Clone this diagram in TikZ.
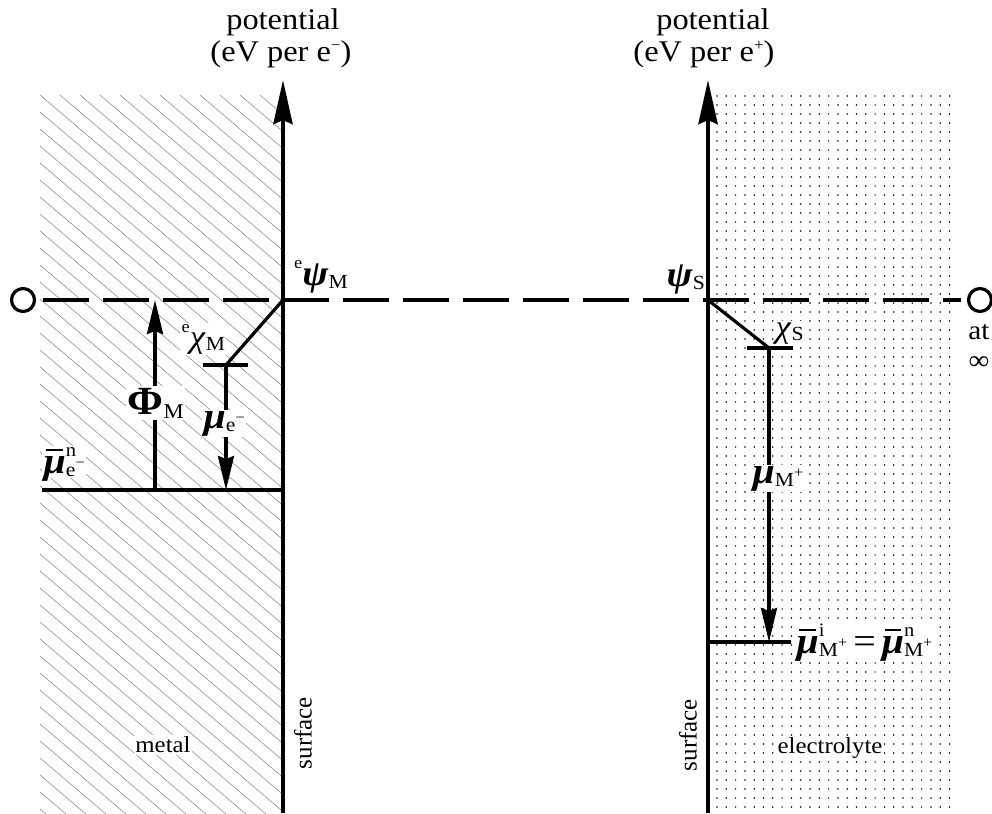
\documentclass[tikz,border=0pt]{standalone}
\usepackage{fontspec}
\usepackage{graphicx}
\setmainfont{Liberation Serif}
\usetikzlibrary{arrows.meta}
\newcommand\hs[1]{\scalebox{1.08}[1]{#1}}
\newcommand\fs[1]{\fontsize{#1}{#1}\selectfont}
\newcommand\lo[2][20]{\raisebox{-0.1em}{\fs{#1}#2}}
\newcommand\hi[2][17]{\raisebox{0.45em}{\fs{#1}#2}}
\newcommand\gk[1]{\textbf{\textit{#1}}}
\newcommand\mub{\ooalign{\gk{μ}\cr\hidewidth\raisebox{0.6em}{\rule{0.42em}{0.06em}}\hidewidth\cr}}
\begin{document}
\begin{tikzpicture}[x=1pt,y=-1pt,
 hatchline/.style={line width=0.5pt,black!50},
 dotmark/.style={fill=black},
 axisline/.style={line width=4.4pt,-{Stealth[length=44pt,width=19pt,inset=4pt]}},
 heavy/.style={line width=3.8pt},
 medium/.style={line width=3.2pt},
 smallarrow/.style={line width=3.2pt,-{Stealth[length=34pt,width=16pt,inset=3pt]}},
 dashline/.style={line width=4.2pt,dash pattern=on 46pt off 14pt},
 ring/.style={circle,draw,line width=3.2pt,minimum size=23pt,inner sep=0pt},
 txt/.style={inner sep=0pt,font=\fs{30}},
 small/.style={inner sep=0pt,font=\fs{23}},
 lab/.style={inner sep=0pt,font=\fs{36}},
 cover/.style={fill=white,inner sep=1.5pt},
]
\useasboundingbox (0,0) rectangle (992,813);
% metal hatching
\begin{scope}
\clip (40,95) rectangle (281,813);
\foreach \k in {-42,...,13} \draw[hatchline] (40+\k*20,95) -- ++(1000,850);
\end{scope}
% electrolyte dots
\foreach \i in {0,...,25}{\foreach \j in {0,...,79}{\fill[dotmark] (717+9.3*\i,96+9*\j) circle (0.85pt);}}
% coordinates
\coordinate (LB) at (283,813); \coordinate (LT) at (283,80);
\coordinate (RB) at (708,813); \coordinate (RT) at (708,80);
\coordinate (OL) at (283,300); \coordinate (OR) at (708,300);
% zero level
\node[ring] (zeroL) at (23,300) {};
\node[ring] (zeroR) at (980,300) {};
\draw[dashline,shorten <=7pt,shorten >=6pt] (zeroL) -- (zeroR);
% metal side
\coordinate (KL) at (226,365); \coordinate (TLa) at (203,365); \coordinate (TLb) at (248,365);
\draw[medium] (OL) -- (KL);
\draw[medium] (TLa) -- (TLb);
\coordinate (BLl) at (42,490); \coordinate (BLr) at (283,490);
\draw[heavy] (BLl) -- (BLr);
\coordinate (MuEnd) at (226,490);
\draw[smallarrow] (KL) -- (MuEnd);
\coordinate (PhiB) at (155,490); \coordinate (PhiT) at (155,300);
\draw[smallarrow] (PhiB) -- (PhiT);
% electrolyte side
\coordinate (KR) at (769,348); \coordinate (TRa) at (747,348); \coordinate (TRb) at (793,348);
\draw[medium] (OR) -- (KR);
\draw[medium] (TRa) -- (TRb);
\coordinate (BRl) at (708,642); \coordinate (BRr) at (791,642);
\draw[heavy] (BRl) -- (BRr);
\coordinate (MuR) at (769,642);
\draw[smallarrow] (KR) -- (MuR);
% axes
\draw[axisline] (LB) -- (LT);
\draw[axisline] (RB) -- (RT);
% axis titles
\node[txt,anchor=base] (potL) at (283,30) {\hs{potential}};
\node[txt,anchor=base] (unitL) at (281,62) {\hs{(eV per e\raisebox{0.38em}{\fs{16}−})}};
\node[txt,anchor=base] (potR) at (713,30) {\hs{potential}};
\node[txt,anchor=base] (unitR) at (704,62) {\hs{(eV per e\raisebox{0.38em}{\fs{16}+})}};
% region labels
\node[small,cover] (metal) at (163,745) {\hs{metal}};
\node[small,cover] (elec) at (830,748) {\hs{electrolyte}};
\node[inner sep=0pt,font=\fs{25},rotate=90] (surfL) at (303,733) {surface};
\node[inner sep=0pt,font=\fs{25},rotate=90] (surfR) at (688,735) {surface};
\node[inner sep=0pt,font=\fs{27},anchor=base] (at) at (979,339) {\hs{at}};
\node[inner sep=0pt,font=\fs{27},anchor=base] (inf) at (979,369) {\hs{∞}};
% math labels
\node[lab,anchor=base west] (psiM) at (294,285) {\hs{\hi{e}\gk{ψ}\lo{M}}};
\node[lab,anchor=base east] (psiS) at (705,286) {\hs{\gk{ψ}\lo{S}}};
\node[lab,cover,anchor=base west,font=\fs{32}] (chiM) at (180,347) {\hs{\hi{e}\textit{χ}\lo{M}}};
\node[lab,cover,anchor=base west,font=\fs{32}] (chiS) at (774,337) {\hs{\textit{χ}\lo{S}}};
\node[lab,cover,anchor=base west,font=\fs{40}] (phi) at (126,414) {\hs{\textbf{Φ}\lo[21]{M}}};
\node[lab,cover,anchor=base west,font=\fs{37}] (mue) at (202,428) {\hs{\gk{μ}\lo{e\hi[15]{−}}}};
\node[lab,cover,anchor=base west,font=\fs{37}] (muM) at (751,483) {\hs{\gk{μ}\lo{M\hi[15]{+}}}};
\node[lab,cover,anchor=base west,font=\fs{37}] (mubn) at (42,473) {\hs{\mub\makebox[0pt][l]{\hi[19]{n}}\lo{e\hi[15]{−}}}};
\node[lab,cover,anchor=base west,font=\fs{37}] (mubr) at (795,653) {\hs{\mub\makebox[0pt][l]{\hi[19]{i}}\lo{M\hi[15]{+}}\hspace{0.15em}=\hspace{0.15em}\mub\makebox[0pt][l]{\hi[19]{n}}\lo{M\hi[15]{+}}}};
\end{tikzpicture}
\end{document}
